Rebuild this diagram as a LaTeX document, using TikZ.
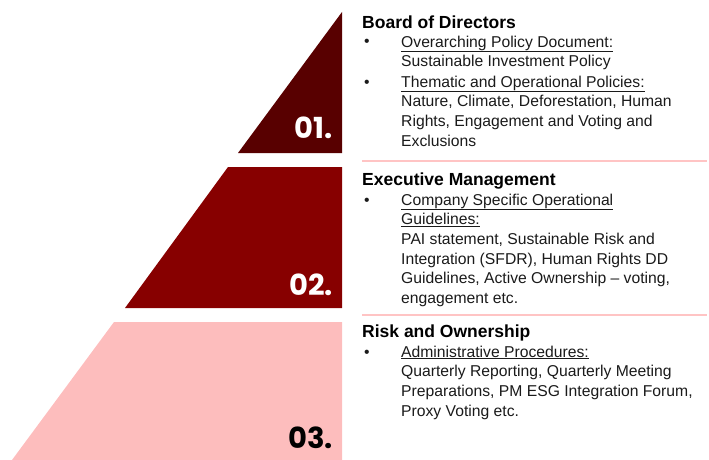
\documentclass[tikz,border=0pt]{standalone}
\usepackage{fontspec}
\setmainfont{Liberation Sans}
\newfontfamily\numfont{Poppins}[BoldFont={* Bold}]

\definecolor{tierA}{HTML}{580000}
\definecolor{tierB}{HTML}{870000}
\definecolor{tierC}{HTML}{FDBDBD}
\definecolor{rule}{HTML}{FFC4C4}
\definecolor{ink}{HTML}{1A1A1A}

\begin{document}
\begin{tikzpicture} [
   x=1pt, y=-1pt,
   num/.style={anchor=base east, inner sep=0pt, font=\numfont\bfseries\fontsize{29}{29}\selectfont},
   head/.style={anchor=base west, inner sep=0pt, font=\bfseries\fontsize{17.5}{20}\selectfont},
   dot/.style={anchor=base west, inner sep=0pt, text=ink, font=\fontsize{15.7}{19.7}\selectfont},
   item/.style={anchor=base west, inner sep=0pt, align=left, text=ink, font=\fontsize{15.7}{19.7}\selectfont},
   sep/.style={draw=rule, line width=1.5pt}
]
   \useasboundingbox (0,0) rectangle (709,460);

   % the three tiers
   \fill[tierA] (342,12) -- (342,153) -- (238,153) -- cycle;
   \fill[tierB] (228,167) -- (342,167) -- (342,308) -- (125,308) -- cycle;
   \fill[tierC] (114,322) -- (342,322) -- (342,460) -- (12,460) -- cycle;

   \node (n1) [num, text=white] at (333,138) {01.};
   \node (n2) [num, text=white] at (333,295) {02.};
   \node (n3) [num, text=black] at (333,448) {03.};

   % separators
   \draw[sep] (362,161) -- (707,161);
   \draw[sep] (362,315) -- (707,315);

   % level 1 (item nodes sit on the baseline of their last line)
   \node (h1) [head] at (362,29) {Board of Directors};
   \node (d1a) [dot] at (364,47) {\textbullet};
   \node (t1a) [item] at (401,66.7) {\underline{Overarching Policy Document:}\\
      Sustainable Investment Policy};
   \node (d1b) [dot] at (364,87) {\textbullet};
   \node (t1b) [item] at (401,146.1) {\underline{Thematic and Operational Policies:}\\
      Nature, Climate, Deforestation, Human\\
      Rights, Engagement and Voting and\\
      Exclusions};

   % level 2
   \node (h2) [head] at (362,185) {Executive Management};
   \node (d2) [dot] at (364,205) {\textbullet};
   \node (t2) [item] at (401,303.5) {\underline{Company Specific Operational}\\
      \underline{Guidelines:}\\
      PAI statement, Sustainable Risk and\\
      Integration (SFDR), Human Rights DD\\
      Guidelines, Active Ownership -- voting,\\
      engagement etc.};

   % level 3
   \node (h3) [head] at (362,337) {Risk and Ownership};
   \node (d3) [dot] at (364,357) {\textbullet};
   \node (t3) [item] at (401,416.1) {\underline{Administrative Procedures:}\\
      Quarterly Reporting, Quarterly Meeting\\
      Preparations, PM ESG Integration Forum,\\
      Proxy Voting etc.};
\end{tikzpicture}
\end{document}
